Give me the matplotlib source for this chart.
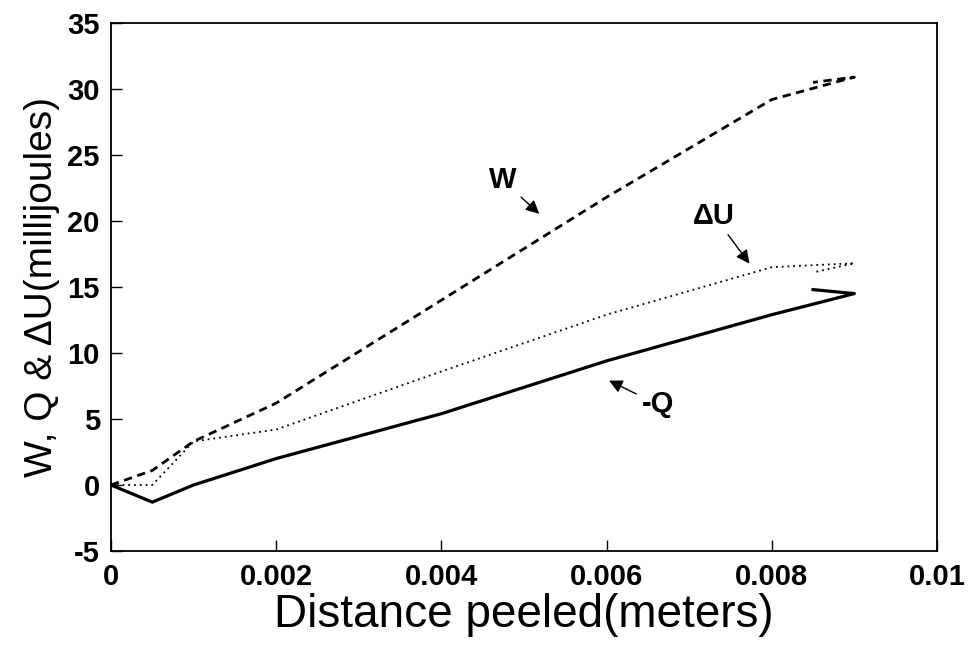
import matplotlib
matplotlib.use("Agg")
import matplotlib.pyplot as plt

# Data (distance in meters, energies in millijoules)
distance = [0.0, 0.0005, 0.001, 0.002, 0.004, 0.006, 0.008, 0.009, 0.0085]
work_W = [0.0, 1.1, 3.3, 6.2, 14.0, 21.8, 29.2, 30.9, 30.5]
delta_U = [0.0, 0.0, 3.3, 4.2, 8.6, 12.9, 16.5, 16.8, 16.1]
minus_Q = [0.0, -1.3, 0.0, 2.0, 5.4, 9.4, 12.9, 14.5, 14.8]

x_ticks = [0, 0.002, 0.004, 0.006, 0.008, 0.01]
x_tick_labels = ["0", "0.002", "0.004", "0.006", "0.008", "0.01"]
y_ticks = [-5, 0, 5, 10, 15, 20, 25, 30, 35]
y_tick_labels = ["-5", "0", "5", "10", "15", "20", "25", "30", "35"]

plt.rcParams['font.family'] = ['Liberation Sans', 'DejaVu Sans']
plt.rcParams['axes.unicode_minus'] = False

fig = plt.figure(figsize=(9.76, 6.47), dpi=100)
ax = fig.add_axes([0.1137, 0.1484, 0.8463, 0.8161])

ax.plot(distance, work_W, color='black', lw=2.0, linestyle=(0, (3, 2)))
ax.plot(distance, delta_U, color='black', lw=1.3, linestyle=(0, (1, 2.2)))
ax.plot(distance, minus_Q, color='black', lw=2.3, linestyle='-')

ax.set_xlim(0, 0.01)
ax.set_ylim(-5, 35)
ax.set_xticks(x_ticks)
ax.set_xticklabels(x_tick_labels)
ax.set_yticks(y_ticks)
ax.set_yticklabels(y_tick_labels)
ax.tick_params(direction='in', length=8, width=1, labelsize=21)
ax.tick_params(axis='x', pad=9)
ax.tick_params(axis='y', pad=8)
for lab in ax.get_xticklabels() + ax.get_yticklabels():
    lab.set_fontweight('bold')
for sp in ax.spines.values():
    sp.set_linewidth(1.3)

ax.set_xlabel('Distance peeled(meters)', fontsize=33, labelpad=1)
ax.set_ylabel('W, Q & ΔU(millijoules)', fontsize=28, labelpad=5)

arrow = dict(arrowstyle='-|>', color='black', lw=1.0, mutation_scale=20)
ax.annotate('W', xy=(0.00521, 20.4), xytext=(0.00474, 23.1),
            fontsize=21, fontweight='bold', ha='center', va='center',
            arrowprops=arrow)
ax.annotate('ΔU', xy=(0.00775, 16.6), xytext=(0.0073, 20.4),
            fontsize=21, fontweight='bold', ha='center', va='center',
            arrowprops=arrow)
ax.annotate('-Q', xy=(0.0060, 8.0), xytext=(0.00662, 6.1),
            fontsize=21, fontweight='bold', ha='center', va='center',
            arrowprops=arrow)

fig.savefig('out.png', dpi=100)
